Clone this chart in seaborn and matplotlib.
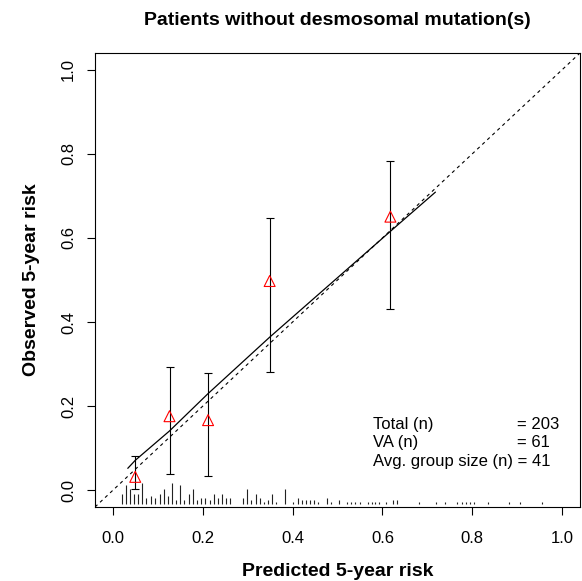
import matplotlib
matplotlib.use("Agg")
import matplotlib.pyplot as plt
import seaborn as sns
import pandas as pd
import numpy as np

# ---- data ----
title = "Patients without desmosomal mutation(s)"
xlabel = "Predicted 5-year risk"
ylabel = "Observed 5-year risk"
ticks = [0.0, 0.2, 0.4, 0.6, 0.8, 1.0]
tick_labels = ["0.0", "0.2", "0.4", "0.6", "0.8", "1.0"]

group_pred = [0.0496, 0.1259, 0.2118, 0.3489, 0.6178]
group_obs = [0.0317, 0.1760, 0.1667, 0.4976, 0.6507]
group_lower = [0.0024, 0.0380, 0.0330, 0.2800, 0.4310]
group_upper = [0.0810, 0.2920, 0.2780, 0.6470, 0.7830]

curve_x = [0.033, 0.0496, 0.126, 0.212, 0.349, 0.618, 0.718]
curve_y = [0.052, 0.071, 0.141, 0.230, 0.364, 0.616, 0.709]

spike_x = [0.020, 0.029, 0.038, 0.047, 0.056, 0.065, 0.074, 0.084, 0.093, 0.104,
           0.113, 0.122, 0.131, 0.141, 0.150, 0.159, 0.169, 0.178, 0.187, 0.196,
           0.205, 0.215, 0.224, 0.233, 0.242, 0.252, 0.261, 0.290, 0.299, 0.308,
           0.318, 0.327, 0.336, 0.345, 0.354, 0.363, 0.384, 0.402, 0.411, 0.420,
           0.429, 0.438, 0.447, 0.456, 0.477, 0.486, 0.504, 0.522, 0.531, 0.538,
           0.551, 0.568, 0.576, 0.583, 0.593, 0.607, 0.624, 0.633, 0.681, 0.720,
           0.740, 0.766, 0.777, 0.787, 0.796, 0.804, 0.836, 0.881, 0.907, 0.955]
spike_count = [5, 9, 7, 5, 5, 10, 3, 4, 3, 5,
               7, 4, 10, 2, 9, 2, 5, 7, 2, 3,
               3, 2, 5, 3, 5, 3, 3, 3, 7, 2,
               5, 3, 1, 2, 5, 1, 7, 1, 3, 2,
               2, 2, 2, 1, 3, 1, 2, 1, 1, 1,
               1, 1, 1, 1, 1, 1, 2, 2, 1, 1,
               1, 1, 1, 1, 1, 1, 1, 1, 1, 1]

stat_labels = ["Total (n)", "VA (n)", "Avg. group size (n) = 41"]
stat_values = ["= 203", "= 61", ""]
stat_y = [0.157, 0.113, 0.069]

# ---- plot ----
sns.set_theme(style="white")
plt.rcParams["font.family"] = ["Liberation Sans", "DejaVu Sans"]
for k in ["text.color", "axes.labelcolor", "xtick.color", "ytick.color"]:
    plt.rcParams[k] = "black"

fig = plt.figure(figsize=(5.82, 5.81), dpi=100)
ax = fig.add_axes([95 / 582, 1 - 507 / 581, 485 / 582, 454 / 581])

lo, hi = -0.04, 1.04
diag = pd.DataFrame({"x": [lo, hi], "y": [lo, hi]})
sns.lineplot(data=diag, x="x", y="y", ax=ax, color="black", lw=0.8,
             linestyle=(0, (3.0, 3.2)))

curve = pd.DataFrame({"x": curve_x, "y": curve_y})
sns.lineplot(data=curve, x="x", y="y", ax=ax, color="black", lw=0.9, sort=True)

groups = pd.DataFrame({"x": group_pred, "y": group_obs,
                       "lo": group_lower, "hi": group_upper})
ax.errorbar(groups["x"], groups["y"],
            yerr=[groups["y"] - groups["lo"], groups["hi"] - groups["y"]],
            fmt="none", ecolor="black", elinewidth=0.8, capsize=2.8, capthick=0.8)
sns.scatterplot(data=groups, x="x", y="y", ax=ax, marker="^", s=62,
                facecolor="none", edgecolor="#ff0000", linewidth=0.8, zorder=5)

base = -0.034
unit = 0.0051
ax.vlines(spike_x, base, [base + c * unit for c in spike_count],
          color="#222222", lw=0.8)

for lab, val, yy in zip(stat_labels, stat_values, stat_y):
    ax.text(0.58, yy, lab, fontsize=12, va="center", ha="left")
    if val:
        ax.text(0.899, yy, val, fontsize=12, va="center", ha="left")

ax.set_xlim(lo, hi)
ax.set_ylim(lo, hi)
ax.set_xticks(ticks)
ax.set_xticklabels(tick_labels, fontsize=12)
ax.set_yticks(ticks)
ax.set_yticklabels(tick_labels, fontsize=12, rotation=90, va="center")
ax.tick_params(axis="both", direction="out", length=6, width=0.8, color="black",
               bottom=True, left=True)
ax.tick_params(axis="x", pad=11.5)
ax.tick_params(axis="y", pad=7.5)
for sp in ax.spines.values():
    sp.set_color("black")
    sp.set_linewidth(0.8)

ax.set_xlabel(xlabel, fontsize=14, fontweight="bold", labelpad=12)
ax.set_ylabel(ylabel, fontsize=14, fontweight="bold", labelpad=15)
ax.set_title(title, fontsize=14, fontweight="bold", pad=20)

fig.savefig("out.png", dpi=100)
